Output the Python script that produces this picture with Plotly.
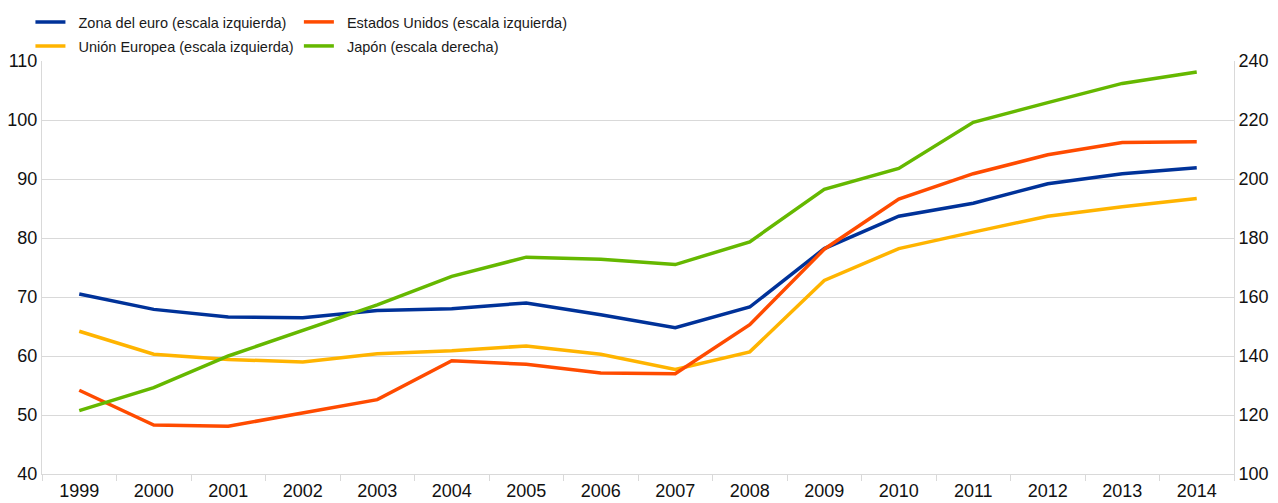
import plotly.graph_objects as go

years = [str(y) for y in range(1999, 2015)]

zona_euro = [70.5, 67.9, 66.6, 66.5, 67.7, 68.0, 69.0, 67.0, 64.8, 68.3, 78.2, 83.7, 85.9, 89.2, 90.9, 91.9]
union_europea = [64.2, 60.3, 59.4, 59.0, 60.4, 60.9, 61.7, 60.3, 57.7, 60.7, 72.8, 78.2, 81.0, 83.7, 85.3, 86.7]
estados_unidos = [54.2, 48.3, 48.1, 50.3, 52.6, 59.2, 58.6, 57.1, 57.0, 65.3, 78.1, 86.6, 90.9, 94.1, 96.2, 96.3]
japon = [121.5, 129.3, 140.0, 148.8, 157.3, 167.0, 173.5, 172.8, 171.0, 178.7, 196.5, 203.6, 219.2, 225.9, 232.4, 236.3]

left_ticks = [40, 50, 60, 70, 80, 90, 100, 110]
right_ticks = [100, 120, 140, 160, 180, 200, 220, 240]

BLUE = "#003299"
YELLOW = "#FFB400"
ORANGE = "#FF4B00"
GREEN = "#65B800"
GRID = "#d9d9d9"
FONT = "Liberation Sans, Arial, sans-serif"
PAD = "\u00a0\u00a0"  # widens the gap between legend swatch and label

fig = go.Figure()
fig.add_trace(go.Scatter(x=years, y=zona_euro, name=PAD + "Zona del euro (escala izquierda)",
                         mode="lines", line=dict(color=BLUE, width=3.5), legend="legend"))
fig.add_trace(go.Scatter(x=years, y=union_europea, name=PAD + "Unión Europea (escala izquierda)",
                         mode="lines", line=dict(color=YELLOW, width=3.5), legend="legend2"))
fig.add_trace(go.Scatter(x=years, y=estados_unidos, name=PAD + "Estados Unidos (escala izquierda)",
                         mode="lines", line=dict(color=ORANGE, width=3.5), legend="legend3"))
fig.add_trace(go.Scatter(x=years, y=japon, name=PAD + "Japón (escala derecha)",
                         mode="lines", line=dict(color=GREEN, width=3.5), yaxis="y2", legend="legend4"))

legend_common = dict(orientation="v", bgcolor="rgba(0,0,0,0)",
                     font=dict(family=FONT, size=14.5, color="#1a1a1a"),
                     yanchor="middle", xanchor="left", tracegroupgap=0)

col1_x, col2_x = -0.0097, 0.2155
row1_y, row2_y = 1.0945, 1.0363

fig.update_layout(
    width=1278, height=503,
    margin=dict(l=42, r=44, t=61, b=29, autoexpand=False),
    paper_bgcolor="white", plot_bgcolor="white",
    font=dict(family=FONT, size=18, color="#111"),
    showlegend=True,
    legend=dict(x=col1_x, y=row1_y, **legend_common),
    legend2=dict(x=col1_x, y=row2_y, **legend_common),
    legend3=dict(x=col2_x, y=row1_y, **legend_common),
    legend4=dict(x=col2_x, y=row2_y, **legend_common),
    xaxis=dict(type="category", categoryorder="array", categoryarray=years,
               showgrid=False, showline=True, linecolor=GRID, linewidth=1,
               ticks="outside", tickson="boundaries", ticklen=6, tickcolor=GRID,
               tickfont=dict(size=18, color="#111"), range=[-0.5, 15.5]),
    yaxis=dict(range=[40, 110], tickvals=left_ticks, showgrid=True, gridcolor=GRID, gridwidth=1,
               showline=True, linecolor=GRID, linewidth=1, ticks="", zeroline=False,
               tickfont=dict(size=18, color="#111")),
    yaxis2=dict(range=[100, 240], tickvals=right_ticks, overlaying="y", side="right",
                showgrid=False, showline=True, linecolor=GRID, linewidth=1, ticks="", zeroline=False,
                tickfont=dict(size=18, color="#111")),
)

fig.write_html("out.html")
